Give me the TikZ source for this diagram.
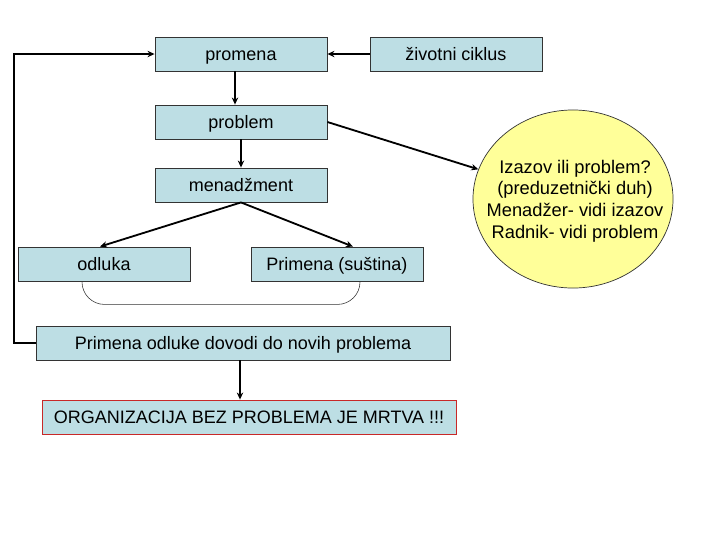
\documentclass[tikz,border=0pt]{standalone}
\usepackage{fontspec}
\setmainfont{Liberation Sans}
\usetikzlibrary{
  arrows,
  arrows.meta,
  calc,
  positioning,
  shapes.geometric
}
\tikzset{>=stealth}
\definecolor{boxblue}{RGB}{189,222,228}
\definecolor{bubble}{RGB}{255,255,153}
\definecolor{redline}{RGB}{200,40,40}
\tikzset{
  box/.style={draw=black!80, fill=boxblue, line width=0.6pt, minimum width=4.3cm,
    minimum height=0.85cm, inner sep=0pt, text height=12.5pt, text depth=3pt,
    font=\fontsize{12.8}{15}\selectfont},
  widebox/.style={box, minimum width=10.35cm},
  link/.style={line width=1.3pt, -{Stealth[length=5pt,width=4.5pt]}}
}

\begin{document}
\begin{tikzpicture}[x=0.025cm,y=-0.025cm]
				\useasboundingbox (0,0) rectangle (720,540);
				\node[box] (promena) at (241,54) {promena};
				\node[box] (ciklus) at (456,54) {životni ciklus};
				\node[box] (problem) at (241,122) {problem};
				\node[box] (menadzment) at (241,185) {menadžment};
				\node[box] (odluka) at (104,264) {odluka};
				\node[box] (sustina) at (337,264) {Primena (suština)};
				\node[widebox] (novi) at (243,343) {Primena odluke dovodi do novih problema};
				\node[widebox, draw=redline] (mrtva) at (249,417) {ORGANIZACIJA BEZ PROBLEMA JE MRTVA !!!};
				\node[ellipse, draw=black!80, fill=bubble, line width=0.5pt, minimum width=5cm,
				  minimum height=4.45cm, inner sep=0pt] (izazov) at (573,199) {};
				\node[align=center, font=\fontsize{13}{15.4}\selectfont] (izazovtekst)
				  at ($(izazov.center)+(2,2)$)
				  {Izazov ili problem?\\(preduzetnički duh)\\Menadžer- vidi izazov\\Radnik- vidi problem};
				% veze
				\draw[link] (ciklus) -- (promena);
				\draw[link] ($(promena.south)+(-6,0)$) -- ($(problem.north)+(-6,0)$);
				\draw[link] (problem) -- (menadzment);
				\draw[link] (problem.east) -- (izazov);
				\draw[link] (menadzment.south) -- ($(odluka.north)+(-4,0)$);
				\draw[link] (menadzment.south) -- ($(sustina.north)+(16,0)$);
				\draw[link] (novi.south) ++(-3,0) coordinate (n1) -- (n1 |- mrtva.north);
				\draw[link] (novi.west) -| (14,54) -- (promena.west);
				\draw[black!80, line width=0.4pt, rounded corners=16]
				  ($(odluka.south)+(-22,0)$) -- ++(0,23) -| ($(sustina.south)+(23,0)$);
			\end{tikzpicture}
\end{document}
